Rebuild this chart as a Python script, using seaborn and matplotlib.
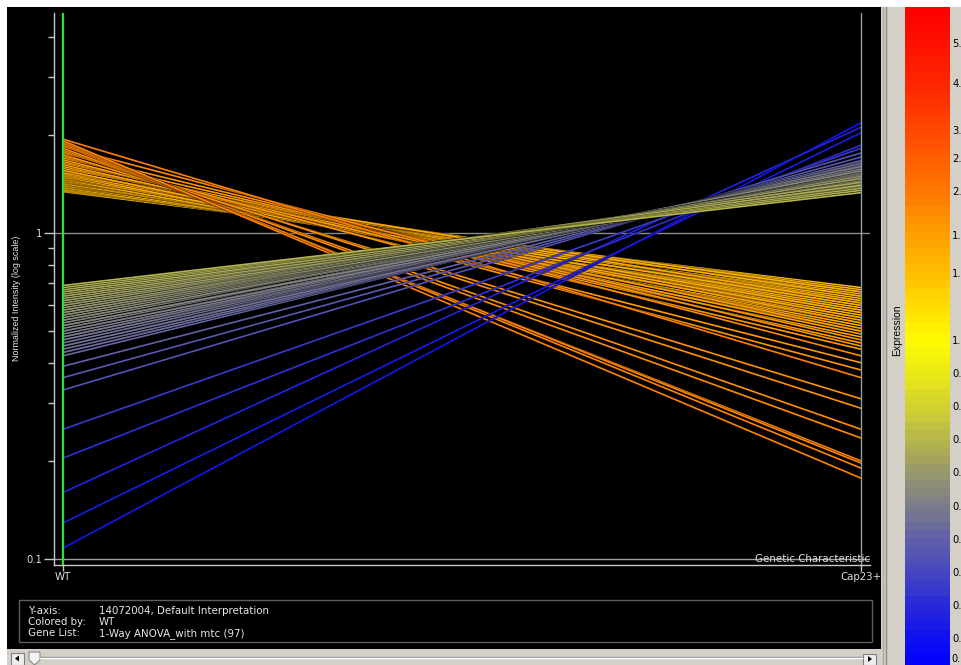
import numpy as np
import pandas as pd
import matplotlib
matplotlib.use("Agg")
import matplotlib.pyplot as plt
import matplotlib.colors as mcolors
import matplotlib.patheffects as pe
from matplotlib.patches import Rectangle, Polygon
from matplotlib.ticker import FixedLocator, NullFormatter
from matplotlib import font_manager
import seaborn as sns

# ---------------- data ----------------
conditions = ["WT", "Cap23+"]

# genes lower in Cap23+ than in WT
down_wt = [1.34, 1.35, 1.36, 1.37, 1.38, 1.38, 1.39, 1.40, 1.40, 1.41,
           1.42, 1.42, 1.43, 1.44, 1.44, 1.45, 1.46, 1.46, 1.47, 1.48,
           1.48, 1.49, 1.50, 1.51, 1.52, 1.53, 1.55, 1.56, 1.58, 1.60,
           1.62, 1.64, 1.66, 1.68, 1.70, 1.72, 1.74, 1.76, 1.78, 1.80,
           1.82, 1.84, 1.86, 1.88, 1.90, 1.92, 1.94]
down_cap = [0.66, 0.68, 0.64, 0.62, 0.67, 0.60, 0.63, 0.58, 0.65, 0.61,
            0.57, 0.59, 0.66, 0.55, 0.62, 0.56, 0.60, 0.53, 0.58, 0.54,
            0.64, 0.52, 0.57, 0.50, 0.55, 0.61, 0.51, 0.48, 0.53, 0.49,
            0.46, 0.50, 0.44, 0.40, 0.47, 0.38, 0.31, 0.45, 0.29, 0.25,
            0.235, 0.42, 0.20, 0.197, 0.19, 0.177, 0.36]

# genes higher in Cap23+ than in WT
up_wt = [0.108, 0.129, 0.16, 0.204, 0.25, 0.33, 0.36, 0.39,
         0.42, 0.43, 0.43, 0.44, 0.45, 0.45, 0.46, 0.47, 0.47, 0.48,
         0.48, 0.49, 0.50, 0.50, 0.51, 0.52, 0.52, 0.53, 0.54, 0.54,
         0.55, 0.56, 0.56, 0.57, 0.57, 0.58, 0.58, 0.59, 0.60, 0.60,
         0.61, 0.62, 0.62, 0.63, 0.64, 0.64, 0.65, 0.66, 0.66, 0.67,
         0.68, 0.69]
up_cap = [2.18, 2.03, 2.11, 1.86, 1.82, 1.76, 1.71, 1.67,
          1.66, 1.62, 1.64, 1.60, 1.63, 1.58, 1.61, 1.57, 1.59, 1.55,
          1.60, 1.54, 1.56, 1.52, 1.57, 1.53, 1.50, 1.55, 1.49, 1.52,
          1.51, 1.47, 1.50, 1.46, 1.48, 1.44, 1.49, 1.45, 1.43, 1.47,
          1.42, 1.44, 1.40, 1.41, 1.43, 1.38, 1.39, 1.40, 1.36, 1.37,
          1.35, 1.33]

y_major_ticks = [0.1, 1.0]
y_major_labels = ["0.1", "1"]
y_minor_ticks = [0.2, 0.3, 0.4, 0.5, 0.6, 0.7, 0.8, 0.9, 2.0, 3.0, 4.0]

cbar_tick_values = [5.0, 4.0, 3.0, 2.4, 2.0, 1.6, 1.3, 1.0, 0.9, 0.8,
                    0.7, 0.6, 0.5, 0.4, 0.3, 0.2, 0.1, 0.0]
cbar_tick_labels = ["5.", "4.", "3.", "2.", "2.", "1.", "1.", "1.", "0.", "0.",
                    "0.", "0.", "0.", "0.", "0.", "0.", "0.", "0."]

info_keys = ["Y-axis:", "Colored by:", "Gene List:"]
info_values = ["14072004, Default Interpretation", "WT", "1-Way ANOVA_with mtc (97)"]

# ---------------- colour scale ----------------
W, H = 961, 665
CB_TOP, CB_ZERO = 7, 671          # colorbar pixel rows: top and value 0


def px_to_t(px):
    return (CB_ZERO - np.asarray(px, float)) / (CB_ZERO - CB_TOP)


scale_vals = [0.0, 1.0, 1.3, 1.6, 2.0, 2.4, 3.0, 4.0, 5.0, 5.9]
scale_t = px_to_t([671, 340, 273, 235, 191, 158, 130, 83, 43, 7])


def to_t(v):
    return np.interp(np.asarray(v, float), scale_vals, scale_t)


cmap_px = [671, 638, 605, 571, 538, 505, 471, 438, 405, 372, 340, 273, 235, 191, 130, 83, 7]
cmap_rgb = [(0, 0, 255), (20, 20, 240), (45, 45, 215), (75, 75, 190), (100, 100, 165),
            (128, 128, 135), (155, 155, 105), (185, 185, 75), (212, 212, 45), (235, 235, 22),
            (255, 252, 0), (255, 192, 0), (255, 162, 0), (255, 122, 0), (255, 75, 0),
            (255, 40, 0), (255, 0, 0)]
cmap_t = px_to_t(cmap_px)
order = np.argsort(cmap_t)
cmap = mcolors.LinearSegmentedColormap.from_list(
    "expr", [(float(cmap_t[i]), tuple(c / 255 for c in cmap_rgb[i])) for i in order])

# ---------------- fonts ----------------
names = {f.name for f in font_manager.fontManager.ttflist}
NARROW = "Liberation Sans Narrow" if "Liberation Sans Narrow" in names else "Liberation Sans"
BASE = "DejaVu Sans"
plt.rcParams["font.family"] = [BASE]

# ---------------- long table ----------------
wt_all = down_wt + up_wt
cap_all = down_cap + up_cap
genes = [f"g{i:03d}" for i in range(len(wt_all))]
rows = []
for g, a, b in zip(genes, wt_all, cap_all):
    rows.append({"gene": g, "pos": 0, "intensity": a, "WT": a})
    rows.append({"gene": g, "pos": 1, "intensity": b, "WT": a})
df = pd.DataFrame(rows)
palette = {g: cmap(float(to_t(a))) for g, a in zip(genes, wt_all)}

# ---------------- figure ----------------
fig = plt.figure(figsize=(W / 100, H / 100), dpi=100, facecolor="white")


def px_axes(l, t, r, b, **kw):
    return fig.add_axes([l / W, 1 - b / H, (r - l) / W, (b - t) / H], **kw)


bg = fig.add_axes([0, 0, 1, 1], zorder=-10)
bg.set_xlim(0, W)
bg.set_ylim(H, 0)
bg.axis("off")
bg.add_patch(Rectangle((7, 7), 874, 642, facecolor="black", edgecolor="none"))
bg.add_patch(Rectangle((881, 7), 80, 658, facecolor="#d4d0c8", edgecolor="none"))
bg.plot([882.5, 882.5], [7, 665], color="#a8a8a8", lw=1)
bg.plot([885.5, 885.5], [7, 665], color="#8a8a8a", lw=1)
# scrollbar
bg.add_patch(Rectangle((7, 649), 874, 16, facecolor="#d4d0c8", edgecolor="none"))
bg.plot([40, 862], [656.5, 656.5], color="#909090", lw=1)
bg.plot([40, 862], [657.5, 657.5], color="#ffffff", lw=1)
bg.add_patch(Rectangle((11, 653), 13, 12, facecolor="#eeeeee", edgecolor="#808080", lw=0.8))
bg.add_patch(Polygon([[15, 658.5], [19, 655.5], [19, 661.5]], closed=True, facecolor="black"))
bg.add_patch(Polygon([[29, 652], [40, 652], [40, 660], [34.5, 665], [29, 660]], closed=True,
                     facecolor="#f2f2f2", edgecolor="#8a8a8a", lw=0.8))
bg.add_patch(Rectangle((863, 654), 13, 11, facecolor="#eeeeee", edgecolor="#808080", lw=0.8))
bg.add_patch(Polygon([[872, 659], [868, 656], [868, 662]], closed=True, facecolor="black"))
# info box
bg.add_patch(Rectangle((18.5, 599.5), 853, 42.5, facecolor="none", edgecolor="#5c5c5c", lw=1))
for k, (key, val) in enumerate(zip(info_keys, info_values)):
    yy = 610.5 + 11.5 * k
    bg.text(28, yy, key, color="#e6e6e6", fontsize=7.4, va="center", ha="left", family=BASE)
    bg.text(99, yy, val, color="#e6e6e6", fontsize=7.4, va="center", ha="left", family=BASE)

# ---------------- main plot ----------------
ax = px_axes(54, 13, 870, 565)
ax.set_facecolor("black")
sns.lineplot(data=df, x="pos", y="intensity", hue="gene", palette=palette,
             estimator=None, errorbar=None, sort=False, legend=False, ax=ax,
             linewidth=1.2,
             path_effects=[pe.Stroke(linewidth=2.0, foreground=(0, 0, 0, 0.45)), pe.Normal()])
ax.set_yscale("log")
ax.set_xlim(-9 / 798, 1 + 9 / 798)
ax.set_ylim(10 ** (-(565 - 233) / 326), 10 ** ((233 - 13) / 326))

ax.axhline(1.0, color="#8c8c8c", lw=1, zorder=1)
ax.axhline(0.1, color="#a0a0a0", lw=1, zorder=1)
ax.axvline(0, color="#33dd33", lw=1.6, zorder=5)
ax.axvline(1, color="#8e9eac", lw=1, zorder=5)

for s in ["top", "right"]:
    ax.spines[s].set_visible(False)
for s in ["left", "bottom"]:
    ax.spines[s].set_color("#c8c8c8")
    ax.spines[s].set_linewidth(1)

ax.yaxis.set_major_locator(FixedLocator(y_major_ticks))
ax.yaxis.set_minor_locator(FixedLocator(y_minor_ticks))
ax.yaxis.set_minor_formatter(NullFormatter())
ax.set_yticklabels(y_major_labels)
ax.tick_params(axis="y", which="major", length=7, width=1, color="#c8c8c8",
               labelcolor="#dcdcdc", labelsize=7.2, pad=1.5)
ax.tick_params(axis="y", which="minor", length=4, width=1, color="#c8c8c8")
ax.set_xticks([0, 1])
ax.set_xticklabels(conditions)
ax.tick_params(axis="x", length=4, width=1, color="#c8c8c8", labelcolor="#dcdcdc",
               labelsize=7.4, pad=1)
ax.set_xlabel("")
ax.set_ylabel("")
ax.text(1.0, 0.1, "Genetic Characteristic", transform=ax.get_yaxis_transform(),
        ha="right", va="center", color="#e0e0e0", fontsize=7.4, zorder=6)

fig.text(17 / W, 1 - 298 / H, "Normalized Intensity (log scale)", rotation=90,
         ha="center", va="center", color="#e6e6e6", fontsize=6.4, family=NARROW)

# ---------------- colour bar ----------------
cax = px_axes(905, 7, 950, 665)
nb = 80
grad = ((np.arange(nb) + 0.5) / nb).reshape(nb, 1)
cax.imshow(grad, cmap=cmap, aspect="auto", origin="lower", extent=[0, 1, 0, 1],
           interpolation="nearest")
cax.set_xlim(0, 1)
cax.set_ylim(px_to_t(665), 1)
cax.set_xticks([])
cax.yaxis.tick_right()
vis = [(v, l) for v, l in zip(cbar_tick_values, cbar_tick_labels) if to_t(v) >= px_to_t(665)]
cax.set_yticks([float(to_t(v)) for v, _ in vis])
cax.set_yticklabels([l for _, l in vis])
cax.tick_params(axis="y", length=0, pad=1.5, labelsize=7.2, labelcolor="black")
for s in cax.spines.values():
    s.set_visible(False)
fig.text(897 / W, 1 - 330 / H, "Expression", rotation=90, ha="center", va="center",
         color="black", fontsize=7.5, family=NARROW)
# bottom label near the lower edge
fig.text(951.5 / W, 1 - 659 / H, cbar_tick_labels[-1], ha="left", va="center",
         color="black", fontsize=7)

fig.savefig("out.png", dpi=100, facecolor="white")
